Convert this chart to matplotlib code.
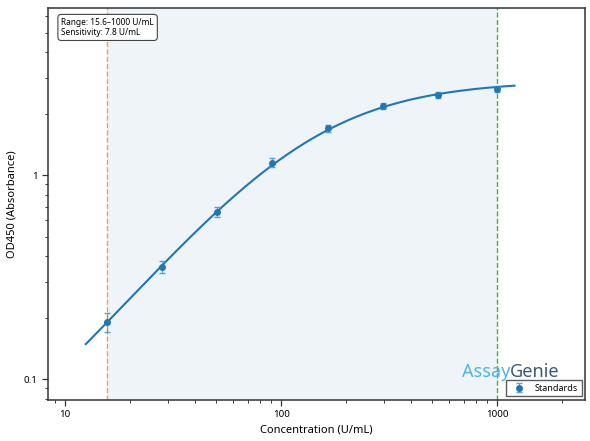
import numpy as np
import matplotlib
matplotlib.use("Agg")
import matplotlib.pyplot as plt
from matplotlib.ticker import LogLocator, NullFormatter, FixedLocator, FixedFormatter

plt.rcParams['font.family'] = ['Noto Sans', 'DejaVu Sans']

conc = [15.6, 28.1, 50.6, 91.1, 164, 295, 531, 1000]
od = [0.19, 0.355, 0.66, 1.15, 1.70, 2.18, 2.47, 2.64]
err = [0.02, 0.025, 0.04, 0.06, 0.07, 0.08, 0.08, 0.08]

# 4PL fit parameters (estimated)
bottom, top, ec50, hill = 0.02, 2.9, 132.0, 1.3
xfit = np.logspace(np.log10(12.5), np.log10(1200), 200)
yfit = bottom + (top - bottom) / (1 + (ec50 / xfit) ** hill)

fig, ax = plt.subplots(figsize=(5.9, 4.41), dpi=100)
ax.set_xscale('log')
ax.set_yscale('log')
ax.axvspan(15.6, 1000, color='#dce8f3', alpha=0.45, lw=0, zorder=0)
ax.axvline(15.6, color='#f5a040', ls='--', lw=1.0, zorder=1)
ax.axvline(1000, color='#3cb44b', ls='--', lw=1.0, zorder=1)
ax.plot(xfit, yfit, color='#1f77b4', lw=1.5, zorder=2)
ax.errorbar(conc, od, yerr=err, fmt='o', color='#1f77b4', ms=4,
            capsize=2.5, elinewidth=0.8, ecolor='#5a9fd0', label='Standards', zorder=3)

ax.set_xlim(8.34, 2550)
ax.set_ylim(0.079, 6.6)
ax.set_xlabel('Concentration (U/mL)', fontsize=8)
ax.set_ylabel('OD450 (Absorbance)', fontsize=8)
ax.xaxis.set_major_locator(FixedLocator([10, 100, 1000]))
ax.xaxis.set_major_formatter(FixedFormatter(['10', '100', '1000']))
ax.yaxis.set_major_locator(FixedLocator([0.1, 1]))
ax.yaxis.set_major_formatter(FixedFormatter(['0.1', '1']))
ax.xaxis.set_minor_locator(LogLocator(subs=np.arange(2, 10)))
ax.yaxis.set_minor_locator(LogLocator(subs=np.arange(2, 10)))
ax.xaxis.set_minor_formatter(NullFormatter())
ax.yaxis.set_minor_formatter(NullFormatter())
ax.tick_params(which='major', direction='out', length=4, width=0.9, labelsize=7, color='#333333')
ax.tick_params(which='minor', direction='out', length=2, width=0.7, color='#333333')
for s in ax.spines.values():
    s.set_color('#333333')
    s.set_linewidth(1.1)

ax.text(0.025, 0.975, 'Range: 15.6\u20131000 U/mL\nSensitivity: 7.8 U/mL',
        transform=ax.transAxes, fontsize=6, va='top', ha='left',
        bbox=dict(boxstyle='round,pad=0.4', fc='white', ec='#444444', lw=0.8))
ax.legend(loc='lower right', fontsize=6.5, frameon=True, fancybox=False,
          edgecolor='#333333', borderaxespad=0.4)
ax.text(0.86, 0.072, 'Assay', transform=ax.transAxes, fontsize=13,
        color='#4fb3ea', ha='right', va='center', fontweight='bold')
ax.text(0.86, 0.072, 'Genie', transform=ax.transAxes, fontsize=13,
        color='#3a5a7a', ha='left', va='center', fontweight='bold')

fig.subplots_adjust(left=0.081, right=0.992, top=0.982, bottom=0.093)
fig.savefig('out.png')
